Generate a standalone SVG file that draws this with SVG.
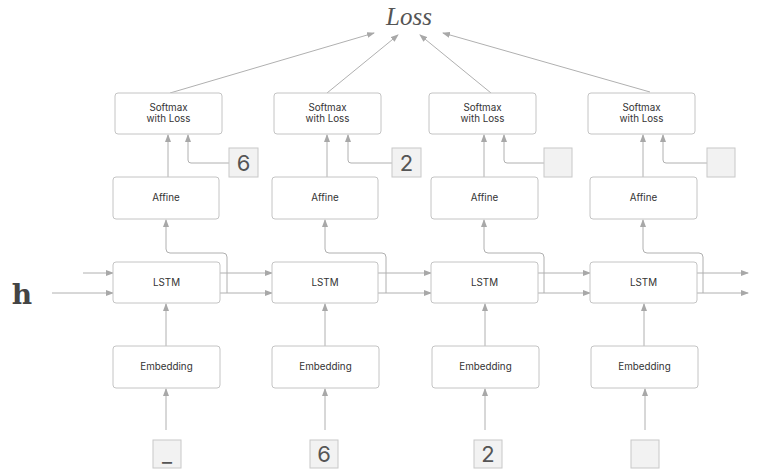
<svg xmlns="http://www.w3.org/2000/svg" width="766" height="476" viewBox="0 0 766 476">
<style>
.box{fill:#fff;stroke:#c4c4c4;stroke-width:1}
.lbl{fill:#f2f2f2;stroke:#c8c8c8;stroke-width:1}
.t{font-family:Inter,"Liberation Sans",sans-serif;font-size:9.8px;fill:#333;text-anchor:middle}
.d{font-family:Inter,"Liberation Sans",sans-serif;font-size:22px;fill:#555;text-anchor:middle}
.w{fill:none;stroke:#b0b0b0;stroke-width:1}
.a{fill:none;stroke:#b0b0b0;stroke-width:1;marker-end:url(#ah)}
</style>
<defs>
<marker id="ah" markerWidth="8" markerHeight="6" refX="7" refY="3" orient="auto" markerUnits="userSpaceOnUse">
<path d="M0,0 L8,3 L0,6 z" fill="#a8a8a8"/>
</marker>
</defs>
<rect width="766" height="476" fill="#fff"/>
<text x="409" y="25" font-family="'Liberation Serif',serif" font-style="italic" font-size="25" fill="#555" text-anchor="middle">Loss</text>
<text x="22" y="304" font-family="'DejaVu Serif',serif" font-weight="bold" font-size="28" fill="#444" text-anchor="middle">h</text>

<g id="connectors">
<path class="a" d="M170,93 L374,33"/>
<path class="a" d="M327,93 L398,35"/>
<path class="a" d="M491,93 L420,35"/>
<path class="a" d="M650,92 L443,33"/>

<path class="a" d="M168,177 V135"/>
<path class="a" d="M229,163 H191 Q188,163 188,160 V135"/>
<path class="a" d="M327,177 V135"/>
<path class="a" d="M392,163 H351 Q348,163 348,160 V135"/>
<path class="a" d="M484,177 V135"/>
<path class="a" d="M544,163 H507 Q504,163 504,160 V135"/>
<path class="a" d="M643,177 V135"/>
<path class="a" d="M707,163 H666 Q663,163 663,160 V135"/>

<path class="a" d="M227,293 V257 Q227,253 223,253 H170 Q166,253 166,249 V220"/>
<path class="a" d="M386,293 V257 Q386,253 382,253 H329 Q325,253 325,249 V220"/>
<path class="a" d="M544,293 V257 Q544,253 540,253 H488 Q484,253 484,249 V220"/>
<path class="a" d="M703,293 V257 Q703,253 699,253 H647 Q643,253 643,249 V220"/>

<path class="a" d="M83,273 H113"/>
<path class="a" d="M52,293 H113"/>
<path class="a" d="M220,273 H272"/>
<path class="a" d="M220,293 H272"/>
<path class="a" d="M378,273 H431"/>
<path class="a" d="M378,293 H431"/>
<path class="a" d="M538,273 H590"/>
<path class="a" d="M538,293 H590"/>
<path class="a" d="M697,273 H748"/>
<path class="a" d="M697,293 H748"/>

<path class="a" d="M166,346 V304"/>
<path class="a" d="M325,346 V304"/>
<path class="a" d="M485,346 V304"/>
<path class="a" d="M644,346 V304"/>

<path class="a" d="M166,430 V389"/>
<path class="a" d="M325,430 V389"/>
<path class="a" d="M485,430 V389"/>
<path class="a" d="M645,430 V389"/>
</g>

<g id="softmax1"><rect class="box" x="115" y="93" width="107" height="41" rx="3"/><text class="t" x="168.5" y="111">Softmax</text><text class="t" x="168.5" y="122">with Loss</text></g>
<g id="softmax2"><rect class="box" x="274" y="93" width="107" height="41" rx="3"/><text class="t" x="327.5" y="111">Softmax</text><text class="t" x="327.5" y="122">with Loss</text></g>
<g id="softmax3"><rect class="box" x="429" y="93" width="107" height="41" rx="3"/><text class="t" x="482.5" y="111">Softmax</text><text class="t" x="482.5" y="122">with Loss</text></g>
<g id="softmax4"><rect class="box" x="588" y="93" width="107" height="41" rx="3"/><text class="t" x="641.5" y="111">Softmax</text><text class="t" x="641.5" y="122">with Loss</text></g>

<g id="label1"><rect class="lbl" x="229" y="148" width="29" height="29"/><text class="d" x="243.5" y="171">6</text></g>
<g id="label2"><rect class="lbl" x="392" y="148" width="29" height="29"/><text class="d" x="406.5" y="171">2</text></g>
<g id="label3"><rect class="lbl" x="544" y="148" width="28" height="29"/></g>
<g id="label4"><rect class="lbl" x="707" y="148" width="28" height="29"/></g>

<g id="affine1"><rect class="box" x="113" y="177" width="106" height="42" rx="3"/><text class="t" x="166" y="201">Affine</text></g>
<g id="affine2"><rect class="box" x="272" y="177" width="106" height="42" rx="3"/><text class="t" x="325" y="201">Affine</text></g>
<g id="affine3"><rect class="box" x="431" y="177" width="107" height="42" rx="3"/><text class="t" x="484.5" y="201">Affine</text></g>
<g id="affine4"><rect class="box" x="590" y="177" width="107" height="42" rx="3"/><text class="t" x="643.5" y="201">Affine</text></g>

<g id="lstm1"><rect class="box" x="113" y="262" width="107" height="41" rx="3"/><text class="t" x="166.5" y="286">LSTM</text></g>
<g id="lstm2"><rect class="box" x="272" y="262" width="106" height="41" rx="3"/><text class="t" x="325" y="286">LSTM</text></g>
<g id="lstm3"><rect class="box" x="431" y="262" width="107" height="41" rx="3"/><text class="t" x="484.5" y="286">LSTM</text></g>
<g id="lstm4"><rect class="box" x="590" y="262" width="107" height="41" rx="3"/><text class="t" x="643.5" y="286">LSTM</text></g>

<g id="embed1"><rect class="box" x="113" y="346" width="107" height="42" rx="3"/><text class="t" x="166.5" y="370">Embedding</text></g>
<g id="embed2"><rect class="box" x="272" y="346" width="107" height="42" rx="3"/><text class="t" x="325.5" y="370">Embedding</text></g>
<g id="embed3"><rect class="box" x="432" y="346" width="107" height="42" rx="3"/><text class="t" x="485.5" y="370">Embedding</text></g>
<g id="embed4"><rect class="box" x="591" y="346" width="107" height="42" rx="3"/><text class="t" x="644.5" y="370">Embedding</text></g>

<g id="in1"><rect class="lbl" x="153" y="440" width="28" height="28"/><text class="d" x="167" y="462">_</text></g>
<g id="in2"><rect class="lbl" x="310" y="440" width="28" height="28"/><text class="d" x="324" y="462">6</text></g>
<g id="in3"><rect class="lbl" x="474" y="440" width="28" height="28"/><text class="d" x="488" y="462">2</text></g>
<g id="in4"><rect class="lbl" x="631" y="440" width="28" height="28"/></g>
</svg>
